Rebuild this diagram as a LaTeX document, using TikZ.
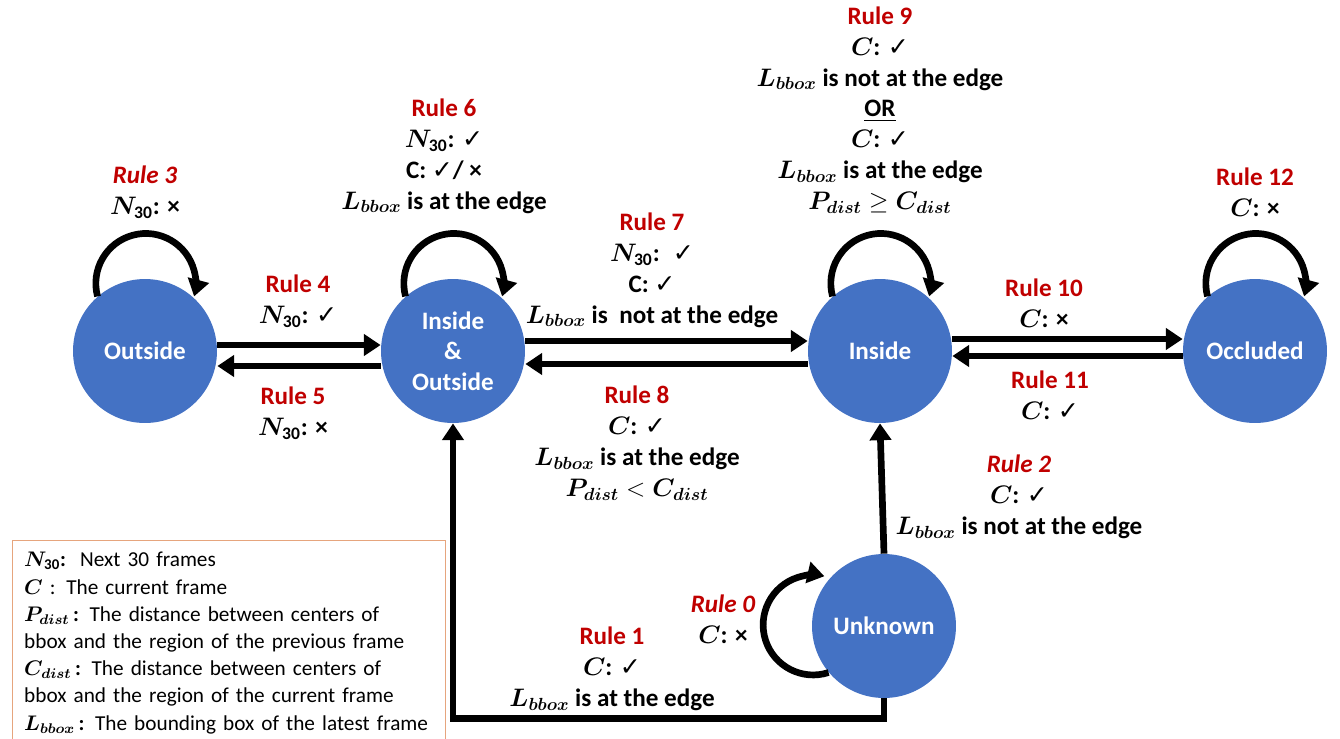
\documentclass[tikz,border=0pt]{standalone}
\usepackage{fontspec}
\usepackage{amsmath,amssymb,bm}
\setmainfont{Carlito}
\newfontfamily\symfont{DejaVu Sans}
\usetikzlibrary{arrows.meta}
\definecolor{stateblue}{RGB}{68,114,196}
\definecolor{rulered}{RGB}{192,0,0}
\definecolor{legendline}{RGB}{230,165,125}
\newcommand{\yes}{{\symfont ✓}}
\newcommand{\no}{{\bfseries ×}}
\newcommand{\rulename}[1]{\textcolor{rulered}{#1}}
\newcommand{\Lbb}{$\bm{L}_{\bm{bbox}}$}
\newcommand{\Nthirty}{$\bm{N}_{\mathbf{30}}$}

\begin{document}
\begin{tikzpicture}[x=0.02cm,y=-0.02cm,
	state_node/.style={circle,fill=stateblue,minimum size=2.88cm,inner sep=0pt,text=white,align=center,font=\fontsize{14.3}{17.3}\selectfont\bfseries},
	rule_text/.style={align=center,font=\fontsize{14.3}{17.6}\selectfont\bfseries},
	arrow_line/.style={line width=3.8pt,-{Triangle[length=9.6pt,width=12pt]}},
	legend_box/.style={draw=legendline,line width=0.8pt,anchor=north west,text width=8.2cm,align=left,inner sep=0.23cm,font=\fontsize{12.1}{15.5}\selectfont}]

		\useasboundingbox (0,0) rectangle (1340,738);

		% states
		\node[state_node] (outside) at (145,351) {Outside};
		\node[state_node] (both) at (453,351) {Inside\\\&\\Outside};
		\node[state_node] (inside) at (880,351) {Inside};
		\node[state_node] (occluded) at (1255,351) {Occluded};
		\node[state_node] (unknown) at (884,626) {Unknown};

		% transitions
		\draw[arrow_line] ([yshift=0.12cm]outside.east) -- ([yshift=0.12cm]both.west);
		\draw[arrow_line] ([yshift=-0.3cm]both.west) -- ([yshift=-0.3cm]outside.east);
		\draw[arrow_line] ([yshift=0.2cm]both.east) -- ([yshift=0.2cm]inside.west);
		\draw[arrow_line] ([yshift=-0.26cm]inside.west) -- ([yshift=-0.26cm]both.east);
		\draw[arrow_line] ([yshift=0.24cm]inside.east) -- ([yshift=0.24cm]occluded.west);
		\draw[arrow_line] ([yshift=-0.1cm]occluded.west) -- ([yshift=-0.1cm]inside.east);
		\draw[arrow_line] (unknown.north) -- (inside.south);
		\draw[arrow_line] (unknown.south) -- ++(0,20) -| (both.south);

		% self loops
		\draw[arrow_line] (outside.131) arc[start angle=195,end angle=-15,radius=1cm];
		\draw[arrow_line] (both.131) arc[start angle=195,end angle=-15,radius=1cm];
		\draw[arrow_line] (inside.131) arc[start angle=195,end angle=-15,radius=1cm];
		\draw[arrow_line] (occluded.131) arc[start angle=195,end angle=-15,radius=1cm];
		\draw[arrow_line] (unknown.220) arc[start angle=-72,end angle=-283,radius=1cm];

		% rules
		\node[rule_text] (r0) at (723,619) {\rulename{\itshape Rule 0}\\$\bm{C}$: \no};
		\node[rule_text] (r1) at (612,669) {\rulename{Rule 1}\\$\bm{C}$: \yes\\\Lbb{} is at the edge};
		\node[rule_text] (r2) at (1019,497) {\rulename{\itshape Rule 2}\\$\bm{C}$: \yes\\\Lbb{} is not at the edge};
		\node[rule_text] (r3) at (145,192) {\rulename{\itshape Rule 3}\\\Nthirty: \no};
		\node[rule_text] (r4) at (298,301) {\rulename{Rule 4}\\\Nthirty: \yes};
		\node[rule_text] (r5) at (293,413) {\rulename{Rule 5}\\\Nthirty: \no};
		\node[rule_text] (r6) at (444,156) {\rulename{Rule 6}\\\Nthirty: \yes\\C: \yes/ \no\\\Lbb{} is at the edge};
		\node[rule_text] (r7) at (652,270) {\rulename{Rule 7}\\\Nthirty: \ \yes\\C: \yes\\\Lbb{} is\ \ not at the edge};
		\node[rule_text] (r8) at (637,443) {\rulename{Rule 8}\\$\bm{C}$: \yes\\\Lbb{} is at the edge\\$\bm{P}_{\bm{dist}}<\bm{C}_{\bm{dist}}$};
		\node[rule_text] (r9) at (880,110) {\rulename{Rule 9}\\$\bm{C}$: \yes\\\Lbb{} is not at the edge\\\underline{OR}\\$\bm{C}$: \yes\\\Lbb{} is at the edge\\$\bm{P}_{\bm{dist}}\geq\bm{C}_{\bm{dist}}$};
		\node[rule_text] (r10) at (1044,303) {\rulename{Rule 10}\\$\bm{C}$: \no};
		\node[rule_text] (r11) at (1050,395) {\rulename{Rule 11}\\$\bm{C}$: \yes};
		\node[rule_text] (r12) at (1255,192) {\rulename{Rule 12}\\$\bm{C}$: \no};

		% legend
		\node[legend_box] (legend) at (12,540) {\Nthirty\textbf{:}\ \ Next 30 frames\\
			$\bm{C}$ : The current frame\\
			$\bm{P}_{\bm{dist}}$\,\textbf{:} The distance between centers of\\
			bbox and the region of the previous frame\\
			$\bm{C}_{\bm{dist}}$\,\textbf{:} The distance between centers of\\
			bbox and the region of the current frame\\
			\Lbb\,\textbf{:} The bounding box of the latest frame};
\end{tikzpicture}
\end{document}
